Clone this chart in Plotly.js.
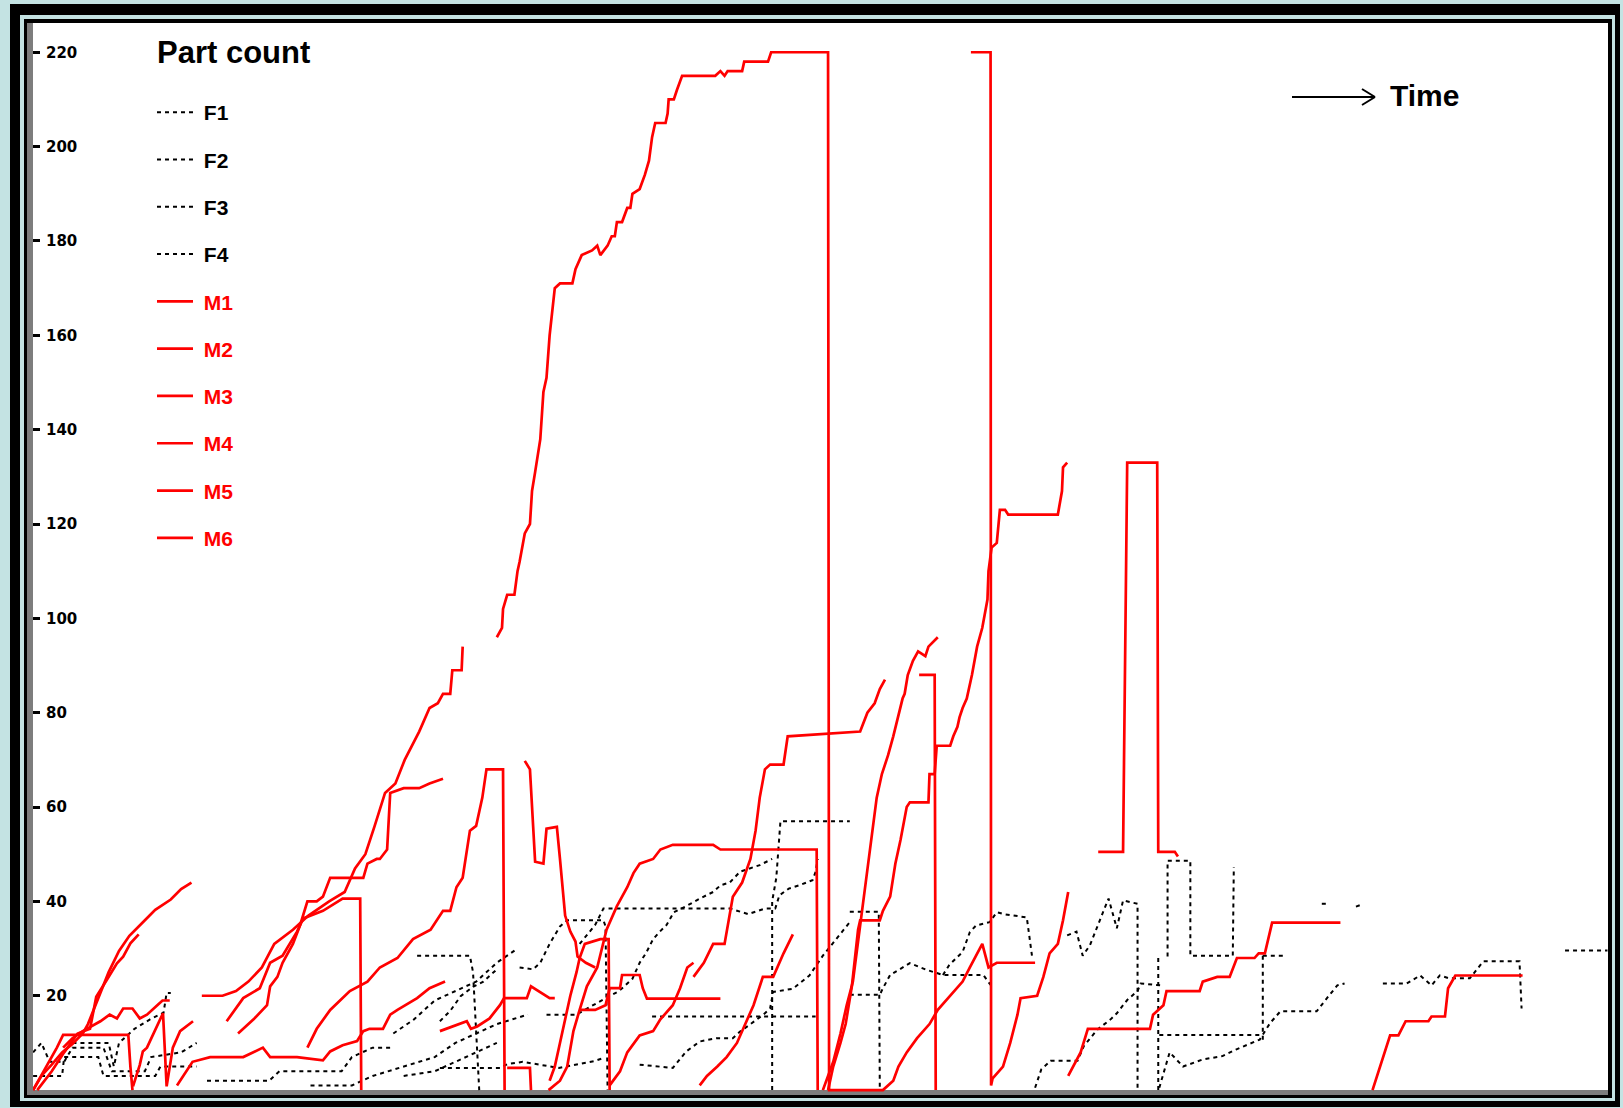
<!DOCTYPE html>
<html><head><meta charset="utf-8">
<script src="https://cdn.plot.ly/plotly-3.0.1.min.js"></script>
<style>html,body{margin:0;padding:0;background:#c4e3e3;}#chart{width:1623px;height:1108px;}</style>
</head><body><div id="chart"></div>
<script>
// Time (arbitrary units) vs part count; null = break between runs
const F1 = [
 [746,0],[746,40],[750,45],[754,57],[821,57], null,
 [1128,28.3],[1128,48.6],[1150,48.6],[1150,28.5],[1191,28.5],[1192,47.3], null,
 [1512,29.6],[1553,29.6], null,
 [403,28.5],[454,28.5],[457,25],[463,0], null,
 [32,8],[40,10],[48,6],[62,6],[70,9],[100,9],[108,4],[140,4],[146,7],[175,8],[190,10], null,
 [380,12],[400,15],[420,19],[440,21],[460,23],[480,27],[500,30]
];
const F2 = [
 [32,3],[60,3],[62,7],[95,7],[100,3],[150,3],[155,5],[190,5], null,
 [70,10],[105,10],[110,5],[115,10],[130,13],[145,15],[158,16.4],[161,20.6],[165,20.6], null,
 [528,16],[557,16],[573,18],[585,19.4],[598,21],[611,23.6],[618,27],[624,29],[631,32],[637,33.5],[644,35],[651,37.7],[663,39],[676,40.6],[689,42],[696,43.4],[705,44],[715,46.3],[724,47],[734,47.7],[746,49], null,
 [1000,0.5],[1006,4.4],[1015,6.2],[1041,6.2],[1047,9.3],[1060,12.8],[1073,15],[1079,16.3],[1089,19.1],[1099,21],[1102,22.6],[1121,22.2], null,
 [1120,0.5],[1130,8],[1143,5],[1162,6.5],[1181,7.2],[1194,8.6],[1217,10.7],[1227,14.2],[1237,16.7],[1272,16.7],[1282,19.5],[1292,22.2],[1299,22.6], null,
 [1336,22.6],[1359,22.6],[1372,24.3],[1383,22.2],[1391,24.3],[1400,23.7],[1420,23.7],[1433,27.3],[1468,27.3],[1470,17.3], null,
 [390,3],[420,4],[460,8],[480,10]
];
const F3 = [
 [502,26],[515,25.6],[522,27],[531,31],[541,34.7],[548,36],[583,36],[585,34.7],[587,0], null,
 [560,31],[575,35],[583,38.5],[705,38.5],[723,37.3],[739,38.5],[749,38.5],[753,41.3],[762,42.7],[772,43.4],[785,44.5],[788,46.3],[790,49], null,
 [821,37.8],[849,37.8],[850,0], null,
 [1031,32.8],[1040,33.6],[1046,28.5],[1053,30.7],[1066,37.9],[1071,40.6],[1079,34.3],[1085,40.2],[1099,39.5],[1099,0], null,
 [1220,28.5],[1240,28.5], null,
 [1220,28.5],[1220,10], null,
 [425,14.6],[435,16.8],[445,19.9],[457,21.9],[467,23],[480,25.6], null,
 [425,4.7],[483,4.7],[490,5.5],[505,6],[540,4.7],[560,5.5],[575,6.2],[583,6.8], null,
 [200,2],[260,2],[270,4],[330,4],[340,7],[360,9],[380,9]
];
const F4 = [
 [630,15.6],[788,15.6], null,
 [618,5.4],[650,4.7],[663,8.2],[676,10.3],[692,11],[708,11],[715,12.4],[728,14.5],[737,15.9],[744,17.3],[747,20.8],[766,21.5],[782,24.3],[795,28.5],[811,32.8],[821,35.6], null,
 [821,20.2],[850,20.2],[853,21.6],[860,24.4],[879,26.9],[895,25.5],[911,24.4],[950,24.4],[957,22.3], null,
 [911,24.4],[917,26.5],[930,29.3],[937,33.5],[943,34.9],[956,35.6],[963,37.7],[970,37.3],[992,36.6],[997,28.5], null,
 [1119,28],[1119,0], null,
 [1120,11.7],[1217,11.7], null,
 [1277,39.5],[1281,39.5], null,
 [1310,38.9],[1315,39.3], null,
 [300,1],[340,1],[360,3],[390,5],[420,7],[440,10],[460,12],[480,14],[510,16]
];
const M1 = [
 [195,20],[215,20],[228,21],[240,23],[253,26],[265,31],[283,34],[298,37],[318,40],[333,42],[343,47],[353,50],[362,56],[372,63],[382,65],[391,70],[405,76],[415,81],[423,82],[428,84],[435,84],[437,89],[446,89],[447,94], null,
 [480,96],[485,98],[486,102],[490,105],[497,105],[500,110],[502,112],[507,118],[512,120],[514,127],[517,131],[522,138],[525,148],[528,151],[531,160],[536,170],[541,171],[553,171],[556,174],[562,177],[572,178],[577,179],[580,177],[587,179],[591,181],[594,181],[596,184],[601,184],[606,187],[609,187],[611,190],[618,191],[623,194],[627,197],[630,202],[633,205],[643,205],[645,207],[646,210],[651,210],[654,212],[659,215],[691,215],[696,216],[700,215],[703,216],[717,216],[719,218],[742,218],[745,220],[800,220],[801,0],[853,0],[863,2],[868,5],[876,8],[886,11],[898,14],[906,17],[918,20],[930,23],[937,26],[949,31],[955,26],[963,27],[971,27],[1000,27], null,
 [32,0],[45,5],[55,9],[61,11.7],[124,11.7],[126,5],[128,0], null,
 [61,9],[70,11],[80,12.5],[97,14.6],[106,16],[113,15.2],[119,17.3],[128,17.3],[135,15.2],[142,16],[152,18],[157,19],[164,19]
];
const M2 = [
 [938,220],[957,220],[957.5,1],[959,2.5],[969,5],[976,10],[983,16],[986,19.5],[1002,20],[1008,24],[1014,29],[1022,31],[1027,36],[1032,42], null,
 [32,0],[40,3],[50,5.4],[60,8],[70,9.8],[80,12],[85,14],[95,19.6],[105,25],[115,29.5],[125,32.7],[140,36],[150,38.2],[165,40.4],[175,42.6],[185,44], null,
 [36,0],[50,4],[62,8],[75,12],[87,13],[93,19.8],[103,23.3],[113,26.9],[119,28.3],[126,31.1],[134,33], null,
 [128.5,0.8],[135,5.3],[138,8.2],[142,9],[157.5,16.3],[161,0.8],[167,9],[174,12.5],[186.5,14.6], null,
 [507,69.8],[512,68],[517,48.4],[525,48],[528,55.4],[538,55.8],[541,49],[546,37],[551,33.6],[556,31.5],[558,28.3],[566,27],[575,26]
];
const M3 = [
 [800,0],[805,5],[812,10],[817,14],[823,22],[829,34],[831,36],[850,36],[853,38],[860,41],[865,48],[870,53],[876,60],[879,61],[897,61],[898,67],[903,67],[905,73],[918,73],[921,75],[925,77],[927,79],[930,81],[934,83],[939,88],[944,94],[949,98],[954,104],[955,110],[958,115],[963,116],[966,123],[971,123],[974,122],[1022,122],[1026,127],[1027,132],[1031,133], null,
 [1032,3],[1044,8],[1051,13],[1111,13],[1114,16],[1124,18],[1127,21],[1159,21],[1162,23],[1176,24],[1188,24],[1195,28],[1212,28],[1216,29],[1222,29],[1229,35.5],[1295,35.5], null,
 [425,12.5],[438,13.5],[451,14.6],[455,13],[461,13.5],[473,15.2],[483,18],[487,19.5],[509,19.5],[513,22],[520,21],[527,20],[531,19.5],[536,19.5], null,
 [560,17],[575,17],[585,18],[589,21.6],[599,21.6],[601,24.4],[618,24.4],[621,21.6],[625,19.4],[696,19.4]
];
const M4 = [
 [795,0],[805,6],[812,12],[818,18],[824,23],[830,33],[836,44],[842,54],[847,62],[852,67],[858,71],[863,75],[872,83],[874,84],[877,88],[882,91],[887,93],[894,92],[897,94],[906,96], null,
 [676,1],[683,3],[693,5],[702,7],[712,10],[722,15],[728,18],[737,24],[747,24],[757,29],[766,33], null,
 [589,1],[599,4],[606,8],[618,11.6],[631,12.5],[638,15],[650,18],[657,21.6],[664,26],[670,27], null,
 [531,2],[536,5],[541,10],[546,15],[551,20],[557,25],[560,28],[565,31],[580,32],[588,32],[589,0]
];
const M5 = [
 [670,24],[680,27],[689,31],[700,31],[708,41],[717,44],[725,49],[730,55],[734,62],[739,68],[744,69],[757,69],[761,75],[831,76],[838,80],[845,82],[850,85],[855,87], null,
 [1326,0],[1336,7],[1343,11.6],[1351,11.6],[1358,14.6],[1380,14.6],[1383,15.6],[1396,15.6],[1399,21.6],[1406,24.3],[1471,24.3], null,
 [297,9],[306,13],[319,17],[338,21],[355,23],[367,26],[384,28],[399,32],[416,34],[428,38],[435,38],[441,43],[447,45],[454,55],[460,56],[466,62],[470,68],[486,68],[487.5,0], null,
 [490,4.7],[512,4.7],[513,0]
];
const M6 = [
 [530,0],[541,2],[548,5],[554,12.5],[560,17],[567,22],[577,26],[586,34],[596,39],[606,43],[612,46],[618,48],[631,49],[638,51],[650,52],[689,52],[696,51],[789,51],[790,0], null,
 [1061,50.5],[1085,50.5],[1089,133],[1118,133],[1119,50.5],[1135,50.5],[1138,49.5], null,
 [230,12],[245,15],[258,18],[261,22],[268,24],[273,27],[283,31],[290,35],[297,40],[306,40],[312,41],[319,45],[351,45],[355,48],[364,49],[367,49],[374,51],[377,63],[390,64],[405,64],[415,65],[428,66], null,
 [219,14.6],[235,19.5],[251,21.6],[261,27],[273,28.5],[287,33.6],[293,36.4],[312,38],[331,40.6],[348,40.6],[349,0], null,
 [888,88],[903,88],[904,0], null,
 [171,1],[186,6],[203,7],[235,7],[254,9],[261,7],[287,7],[312,6.3],[319,8.2],[331,9.5],[345,10.4],[351,12.5],[357,13],[370,13],[377,16],[384,17],[403,19.5],[415,21.6],[430,23]
];
const seriesNames = ['F1','F2','F3','F4','M1','M2','M3','M4','M5','M6'];
const seriesData = [F1,F2,F3,F4,M1,M2,M3,M4,M5,M6];
const yTicks = [20,40,60,80,100,120,140,160,180,200,220];

const W = 1623, H = 1108, L = 33, R = 1608, T = 23, B = 1092;
const px = x => (x - L) / (R - L);
const py = y => (B - y) / (B - T);
const FONT = 'Liberation Sans, Arial, sans-serif';

const traces = seriesData.map((d, i) => {
  const isF = seriesNames[i][0] === 'F';
  return {
    type: 'scatter', mode: 'lines',
    x: d.map(p => p ? p[0] : null),
    y: d.map(p => p ? p[1] : null),
    connectgaps: false,
    name: '\u00a0' + (isF ? seriesNames[i] : '<span style="color:#ff0000">' + seriesNames[i] + '</span>'),
    legendgroup: seriesNames[i],
    line: isF ? {color: '#000000', width: 2, dash: '4px,4px'} : {color: '#ff0000', width: 2.7},
    hoverinfo: 'skip'
  };
});

const rect = (x0, y0, x1, y1, c) => ({type:'rect', xref:'paper', yref:'paper', x0:px(x0), x1:px(x1), y0:py(y0), y1:py(y1), fillcolor:c, line:{width:0}, layer:'below'});
const ln = (x0, y0, x1, y1) => ({type:'line', xref:'paper', yref:'paper', x0:px(x0), x1:px(x1), y0:py(y0), y1:py(y1), line:{color:'#000', width:2}});

const layout = {
  width: W, height: H,
  margin: {l: L, r: W - R, t: T, b: H - B, pad: 0},
  paper_bgcolor: '#c4e3e3',
  plot_bgcolor: 'rgba(0,0,0,0)',
  showlegend: true,
  xaxis: {range: [31.9, 1553.5], visible: false, showgrid: false, zeroline: false, fixedrange: true},
  yaxis: {range: [-0.4, 226.2], showgrid: false, zeroline: false, showline: false,
    tickvals: yTicks, ticktext: yTicks.map(String),
    ticks: 'inside', ticklen: 7, tickwidth: 3, tickcolor: '#000',
    ticklabelposition: 'inside', ticklabelstandoff: 6,
    tickfont: {family: 'DejaVu Sans, sans-serif', size: 15, color: '#000', weight: 'bold'}},
  legend: {
    x: px(152), y: py(92), xanchor: 'left', yanchor: 'top',
    bgcolor: 'rgba(0,0,0,0)', borderwidth: 0,
    traceorder: 'grouped', tracegroupgap: 17, itemwidth: 36,
    font: {family: FONT, size: 21, color: '#000', weight: 'bold'}
  },
  shapes: [
    rect(10, 4, 1620, 1107, '#000000'),
    rect(20, 15, 1615, 1101, '#c4e3e3'),
    rect(24, 19, 1612, 1098, '#000000'),
    rect(27, 23, 1608, 1095, '#7d7d7d'),
    rect(33, 23, 1608, 1090, '#ffffff'),
    ln(1292, 97, 1375, 97),
    ln(1362, 89, 1375, 97),
    ln(1362, 105, 1375, 97)
  ],
  annotations: [
    {xref:'paper', yref:'paper', x: px(1388), y: py(95), xanchor:'left', yanchor:'middle', showarrow:false,
     text:'Time', font:{family: FONT, size: 30, color:'#000', weight:'bold'}},
    {xref:'paper', yref:'paper', x: px(155), y: py(53), xanchor:'left', yanchor:'middle', showarrow:false,
     text:'Part count', font:{family: FONT, size: 31, color:'#000', weight:'bold'}}
  ]
};

Plotly.newPlot('chart', traces, layout, {staticPlot: true, displayModeBar: false});
</script></body></html>
